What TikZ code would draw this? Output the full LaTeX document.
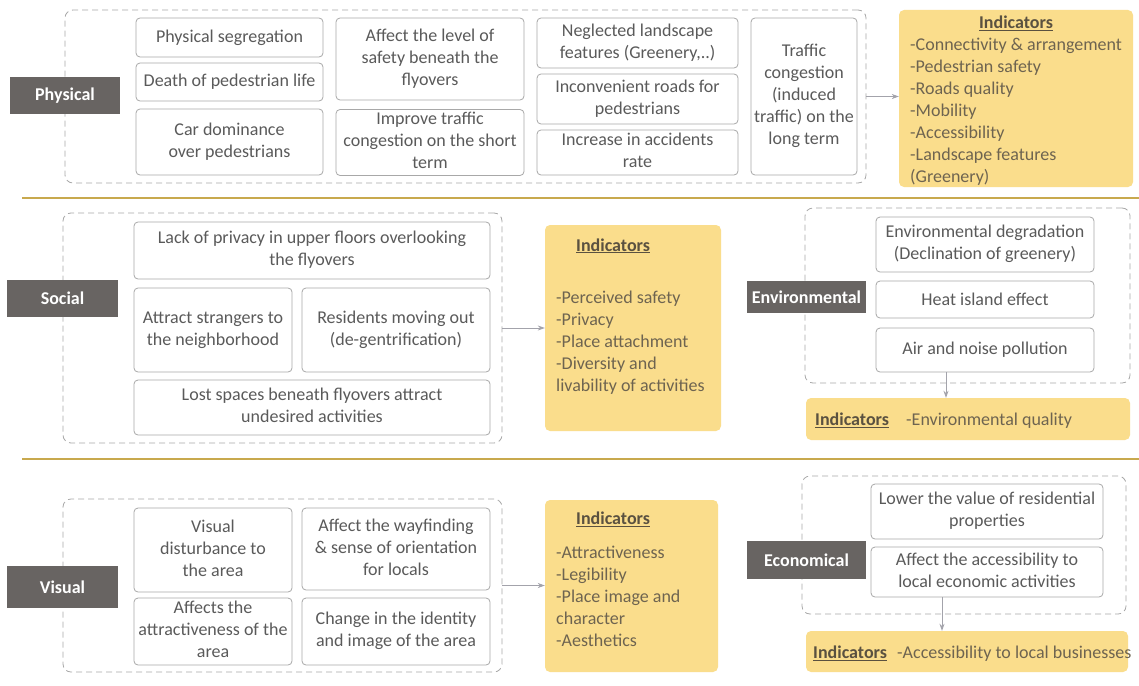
\documentclass[tikz,border=0pt]{standalone}
\usepackage{fontspec}
\setmainfont{Carlito}
\usetikzlibrary{fit,arrows.meta}
\definecolor{txt}{HTML}{5A5A5A}
\definecolor{bord}{HTML}{A8A8A8}
\definecolor{dashc}{HTML}{A8A8A8}
\definecolor{labc}{HTML}{686462}
\definecolor{indc}{HTML}{FADD8C}
\definecolor{indtxt}{HTML}{6E6450}
\definecolor{indtit}{HTML}{5A5140}
\definecolor{goldc}{HTML}{C8A94E}
\definecolor{arrc}{HTML}{A3A3AB}
\newcommand\fsz{\fontsize{18}{22}\selectfont}
\newcommand\ctx[1]{\begin{tabular}{@{}c@{}}#1\end{tabular}}
\newcommand\ltx[1]{\begin{tabular}{@{}l@{}}#1\end{tabular}}
% \boxat{style}{name}{x1}{y1}{x2}{y2}{text}
\newcommand\boxat[7]{\node[#1, minimum width={#5pt-#3pt}, minimum height={#6pt-#4pt}] (#2) at ({(#3+#5)/2},{(#4+#6)/2}) {#7};}
\tikzset{
  cbox/.style={draw=bord, line width=0.8pt, rounded corners=4pt, inner sep=0pt, outer sep=0pt, text=txt, font=\fsz},
  grp/.style={draw=dashc, dash pattern=on 6pt off 4pt, rounded corners=8pt, line width=0.8pt, inner sep=0pt},
  labbox/.style={fill=labc, text=white, font=\fsz\bfseries, inner sep=0pt, outer sep=0pt},
  indbox/.style={fill=indc, rounded corners=5pt, inner sep=0pt},
  indtitle/.style={text=indtit, font=\fsz\bfseries, inner sep=0pt},
  indlist/.style={text=indtxt, font=\fsz, inner sep=0pt},
  arr/.style={-{Stealth[length=7pt,width=5pt]}, draw=arrc, line width=0.8pt},
  sep/.style={draw=goldc, line width=1.6pt}
}
\begin{document}
\begin{tikzpicture}[x=1pt,y=-1pt]
\useasboundingbox (0,0) rectangle (1139,685);
\fill[white] (0,0) rectangle (1139,685);
% separators
\draw[sep] (22,198) -- (1139,198);
\draw[sep] (22,459) -- (1139,459);

% ---------------- Physical ----------------
\node[grp, fit={(65,10) (866,183)}] (physc) {};
\boxat{labbox}{physl}{10}{77}{120}{114}{Physical}
\boxat{cbox}{p1}{136}{18}{323}{57}{Physical segregation}
\boxat{cbox}{p2}{136}{63}{323}{101}{Death of pedestrian life}
\boxat{cbox}{p3}{136}{109}{323}{175}{\ctx{Car dominance\\over pedestrians}}
\boxat{cbox}{p4}{336}{18}{524}{100}{\ctx{Affect the level of\\safety beneath the\\flyovers}}
\boxat{cbox}{p5}{336}{110}{524}{175}{\ctx{Improve traffic\\congestion on the short\\term}}
\boxat{cbox}{p6}{537}{18}{738}{68}{\ctx{Neglected landscape\\features (Greenery,..)}}
\boxat{cbox}{p7}{537}{74}{738}{124}{\ctx{Inconvenient roads for\\pedestrians}}
\boxat{cbox}{p8}{537}{130}{738}{175}{\ctx{Increase in accidents\\rate}}
\boxat{cbox}{p9}{751}{18}{857}{175}{\ctx{Traffic\\congestion\\(induced\\traffic) on the\\long term}}
\node[indbox, fit={(899,10) (1133,187)}] (physi) {};
\node[indtitle, anchor=base] (physit) at (1016,28.5) {\underline{Indicators}};
\node[indlist, anchor=north west] (physil) at (910,34.5) {\ltx{-Connectivity \& arrangement\\-Pedestrian safety\\-Roads quality\\-Mobility\\-Accessibility\\-Landscape features\\(Greenery)}};
\draw[arr] (physc.east) -- (physi.west |- physc.east);

% ---------------- Social ----------------
\node[grp, fit={(63,213) (502,443)}] (socc) {};
\boxat{labbox}{socl}{7}{280}{118}{317}{Social}
\boxat{cbox}{s1}{134}{222}{490}{279}{\ctx{Lack of privacy in upper floors overlooking\\the flyovers}}
\boxat{cbox}{s2}{134}{288}{292}{372}{\ctx{Attract strangers to\\the neighborhood}}
\boxat{cbox}{s3}{302}{288}{490}{372}{\ctx{Residents moving out\\(de-gentrification)}}
\boxat{cbox}{s4}{134}{380}{490}{435}{\ctx{Lost spaces beneath flyovers attract\\undesired activities}}
\node[indbox, fit={(545,225) (721,431)}] (soci) {};
\node[indtitle, anchor=base west] (socit) at (576,251) {\underline{Indicators}};
\node[indlist, anchor=north west] (socil) at (556,288) {\ltx{-Perceived safety\\-Privacy\\-Place attachment\\-Diversity and\\livability of activities}};
\draw[arr] (socc.east) -- (soci.west |- socc.east);

% ---------------- Environmental ----------------
\node[grp, fit={(805,208) (1130,383)}] (envc) {};
\boxat{cbox}{e1}{876}{217}{1094}{272}{\ctx{Environmental degradation\\(Declination of greenery)}}
\boxat{cbox}{e2}{876}{281}{1094}{318}{Heat island effect}
\boxat{cbox}{e3}{876}{328}{1094}{372}{Air and noise pollution}
\boxat{labbox}{envl}{747}{281}{866}{313}{Environmental}
\node[indbox, fit={(806,398) (1130,440)}] (envi) {};
\node[indtitle, anchor=base west] (envit) at (815,425.5) {\underline{Indicators}};
\node[indlist, anchor=base west] (envil) at (906,425.5) {-Environmental quality};
\coordinate (ea) at (946,372);
\draw[arr] (ea) -- (ea |- envi.north);

% ---------------- Visual ----------------
\node[grp, fit={(63,499) (502,672)}] (visc) {};
\boxat{labbox}{visl}{7}{566}{118}{608}{Visual}
\boxat{cbox}{v1}{134}{508}{292}{592}{\ctx{Visual\\disturbance to\\the area}}
\boxat{cbox}{v2}{302}{508}{490}{590}{\ctx{Affect the wayfinding\\\& sense of orientation\\for locals}}
\boxat{cbox}{v3}{134}{598}{292}{665}{\ctx{Affects the\\attractiveness of the\\area}}
\boxat{cbox}{v4}{302}{598}{490}{665}{\ctx{Change in the identity\\and image of the area}}
\node[indbox, fit={(545,500) (718,672)}] (visi) {};
\node[indtitle, anchor=base west] (visit) at (576,524.5) {\underline{Indicators}};
\node[indlist, anchor=north west] (visil) at (556,543) {\ltx{-Attractiveness\\-Legibility\\-Place image and\\character\\-Aesthetics}};
\draw[arr] (visc.east) -- (visi.west |- visc.east);

% ---------------- Economical ----------------
\node[grp, fit={(802,476) (1126,614)}] (ecoc) {};
\boxat{cbox}{c1}{871}{484}{1103}{539}{\ctx{Lower the value of residential\\properties}}
\boxat{cbox}{c2}{871}{547}{1103}{597}{\ctx{Affect the accessibility to\\local economic activities}}
\boxat{labbox}{ecol}{747}{541}{866}{579}{Economical}
\node[indbox, fit={(806,631) (1128,672)}] (ecoi) {};
\node[indtitle, anchor=base west] (ecoit) at (813,658.5) {\underline{Indicators}};
\node[indlist, anchor=base west] (ecoil) at (897,658.5) {-Accessibility to local businesses};
\coordinate (ca) at (942,597);
\draw[arr] (ca) -- (ca |- ecoi.north);
\end{tikzpicture}
\end{document}
